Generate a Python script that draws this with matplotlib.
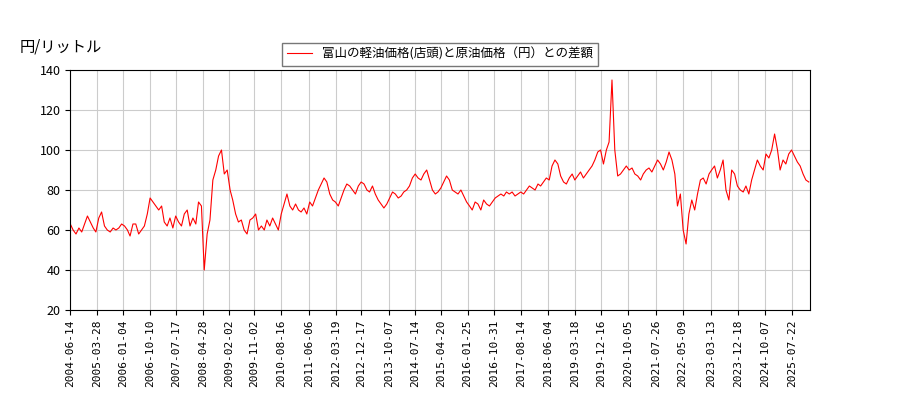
import matplotlib
matplotlib.use("Agg")
import matplotlib.pyplot as plt
import pandas as pd

plt.rcParams['font.family'] = ['Noto Sans CJK JP', 'DejaVu Sans']

start = "2004-06-01"
values = [
    63, 60, 58, 61, 59, 63, 67,
    64, 61, 59, 66, 69, 62, 60, 59, 61, 60, 61, 63,
    62, 60, 57, 63, 63, 58, 60, 62, 68, 76, 74, 72,
    70, 72, 64, 62, 66, 61, 67, 64, 62, 68, 70, 62,
    66, 63, 74, 72, 40, 58, 65, 85, 90, 97, 100, 88,
    90, 80, 75, 68, 64, 65, 60, 58, 65, 66, 68, 60,
    62, 60, 65, 62, 66, 63, 60, 68, 73, 78, 72, 70,
    73, 70, 69, 71, 68, 74, 72, 76, 80, 83, 86, 84,
    78, 75, 74, 72, 76, 80, 83, 82, 80, 78, 82, 84,
    83, 80, 79, 82, 78, 75, 73, 71, 73, 76, 79, 78,
    76, 77, 79, 80, 82, 86, 88, 86, 85, 88, 90, 85,
    80, 78, 79, 81, 84, 87, 85, 80, 79, 78, 80, 77,
    74, 72, 70, 74, 73, 70, 75, 73, 72, 74, 76, 77,
    78, 77, 79, 78, 79, 77, 78, 79, 78, 80, 82, 81,
    80, 83, 82, 84, 86, 85, 92, 95, 93, 87, 84, 83,
    86, 88, 85, 87, 89, 86, 88, 90, 92, 95, 99, 100,
    93, 100, 104, 135, 100, 87, 88, 90, 92, 90, 91, 88,
    87, 85, 88, 90, 91, 89, 92, 95, 93, 90, 94, 99,
    95, 88, 72, 78, 60, 53, 68, 75, 70, 78, 85, 86,
    83, 88, 90, 92, 86, 90, 95, 80, 75, 90, 88, 82,
    80, 79, 82, 78, 85, 90, 95, 92, 90, 98, 96, 100,
    108, 100, 90, 95, 93, 98, 100, 97, 94, 92, 88, 85,
    84,
]
dates = pd.date_range(start, periods=len(values), freq="MS") + pd.Timedelta(days=14)

tick_labels = ["2004-06-14", "2005-03-28", "2006-01-04", "2006-10-10", "2007-07-17",
               "2008-04-28", "2009-02-02", "2009-11-02", "2010-08-16", "2011-06-06",
               "2012-03-19", "2012-12-17", "2013-10-07", "2014-07-14", "2015-04-20",
               "2016-01-25", "2016-10-31", "2017-08-14", "2018-06-04", "2019-03-18",
               "2019-12-16", "2020-10-05", "2021-07-26", "2022-05-09", "2023-03-13",
               "2023-12-18", "2024-10-07", "2025-07-22"]

fig = plt.figure(figsize=(9, 4), dpi=100)
ax = fig.add_axes([0.078, 0.225, 0.822, 0.6])
ax.plot(dates, values, color="red", linewidth=0.8,
        label="富山の軽油価格(店頭)と原油価格（円）との差額")
ax.set_ylim(20, 140)
ax.set_yticks(range(20, 141, 20))
ax.set_xlim(pd.Timestamp("2004-06-14"), pd.Timestamp("2026-01-28"))
ax.set_xticks(pd.to_datetime(tick_labels))
ax.set_xticklabels(tick_labels, rotation=90, fontsize=8, family="DejaVu Sans Mono")
ax.tick_params(axis="y", labelsize=9)
ax.grid(True, color="#cccccc", linewidth=0.8)
ax.legend(loc="upper center", bbox_to_anchor=(0.5, 1.14), fontsize=9,
          frameon=True, fancybox=False, edgecolor="#555555")
fig.text(0.022, 0.87, "円/リットル", fontsize=11)
fig.savefig("out.png")
